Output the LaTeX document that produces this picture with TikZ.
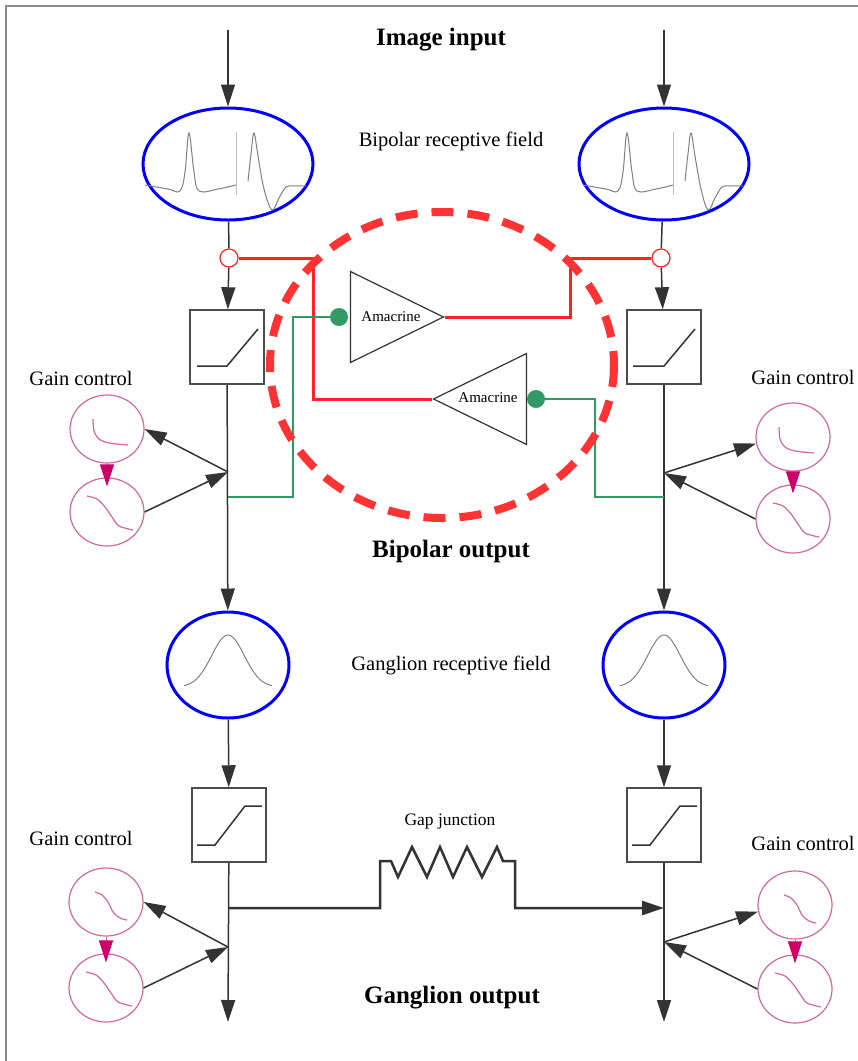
\documentclass[tikz,border=0pt]{standalone}
\usepackage{fontspec}
\setmainfont{Liberation Serif}
\usetikzlibrary{arrows.meta,shapes.geometric}

\definecolor{fieldblue}{RGB}{0,0,255}
\definecolor{gainpink}{RGB}{214,102,160}
\definecolor{gainmag}{RGB}{204,0,102}
\definecolor{amagreen}{RGB}{46,155,98}
\definecolor{dotgreen}{RGB}{51,153,102}
\definecolor{amared}{RGB}{255,34,34}
\definecolor{zonered}{RGB}{255,51,51}

\tikzset{
  wire/.style={line width=1.5pt, black!80},
  arr/.style={wire, -{Triangle[length=22pt,width=14pt]}},
  bipfield/.style={ellipse, draw=fieldblue, line width=3pt, minimum width=170pt, minimum height=112pt, inner sep=0pt},
  ganfield/.style={ellipse, draw=fieldblue, line width=3pt, minimum width=122pt, minimum height=106pt, inner sep=0pt},
  rectbox/.style={rectangle, draw=black!70, line width=1.5pt, minimum size=74pt, inner sep=0pt},
  synring/.style={circle, draw=amared, line width=1.2pt, minimum size=18pt, inner sep=0pt},
  syndot/.style={circle, fill=dotgreen, minimum size=18pt, inner sep=0pt},
  amabox/.style={isosceles triangle, isosceles triangle stretches, draw=black!80, line width=1.2pt, inner sep=0pt, minimum width=91pt, minimum height=93pt},
  gaincirc/.style={ellipse, draw=gainpink, line width=1.2pt, minimum width=74pt, minimum height=68pt, inner sep=0pt},
  gainarr/.style={gainpink, line width=1pt, -{Triangle[length=22pt,width=14pt,color=gainmag]}},
  redwire/.style={amared, line width=3pt},
  greenwire/.style={amagreen, line width=2.5pt},
  wave/.style={black!50, line width=1pt},
  gwave/.style={gainpink, line width=1.2pt},
  title/.style={font=\fontsize{25}{30}\selectfont\bfseries},
  lbl/.style={font=\fontsize{20.5}{24}\selectfont},
  smalllbl/.style={font=\fontsize{17.5}{21}\selectfont},
  amalbl/.style={font=\fontsize{15}{18}\selectfont}
}

\begin{document}
\begin{tikzpicture}[x=1pt,y=-1pt]
\useasboundingbox (0,0) rectangle (858,1061);
\draw[black!45, line width=1.5pt] (6,6) rectangle (880,1080);

\coordinate (inL) at (228,30);
\coordinate (inR) at (664,30);
\coordinate (jL1) at (228,472);
\coordinate (jR1) at (664,473);
\coordinate (gjL) at (228,497);
\coordinate (gjR) at (664,497);
\coordinate (gapA) at (228,908);
\coordinate (gapB) at (664,908);
\coordinate (jL2) at (228,947);
\coordinate (jR2) at (664,942);
\coordinate (outL) at (228,1022);
\coordinate (outR) at (664,1022);

% texts
\node[title] (tIn) at (441,40) {Image input};
\node[lbl] (tBip) at (451,141) {Bipolar receptive field};
\node[title] (tBipOut) at (451,551) {Bipolar output};
\node[lbl] (tGan) at (451,665) {Ganglion receptive field};
\node[smalllbl] (tGap) at (450,822) {Gap junction};
\node[title] (tGanOut) at (452,998) {Ganglion output};
\node[lbl] (tGainLa) at (81,378) {Gain control};
\node[lbl] (tGainRa) at (803,377) {Gain control};
\node[lbl] (tGainLb) at (81,838) {Gain control};
\node[lbl] (tGainRb) at (803,843) {Gain control};

% receptive fields
\node[bipfield] (bipL) at (228,164) {};
\node[bipfield] (bipR) at (664,164) {};
\node[ganfield] (ganL) at (228,665) {};
\node[ganfield] (ganR) at (664,665) {};
\begin{scope}[shift={(bipL.center)}]
  \draw[wave] plot[smooth, tension=0.6] coordinates {(-83,21) (-60,25) (-48,27) (-43,8) (-39,-31) (-34,8) (-29,27) (-10,25) (8,21)};
  \draw[black!25, line width=0.8pt] (8,-32) -- (8,31);
  \draw[wave] plot[smooth, tension=0.6] coordinates {(20,17) (23,-10) (26,-31) (30,-8) (36,25) (44,46) (51,34) (58,23) (66,22) (78,22)};
\end{scope}
\begin{scope}[shift={(bipR.center)}]
  \draw[wave] plot[smooth, tension=0.6] coordinates {(-81,21) (-58,25) (-46,27) (-41,8) (-37,-31) (-32,8) (-27,27) (-8,25) (9,21)};
  \draw[black!25, line width=0.8pt] (9,-32) -- (9,31);
  \draw[wave] plot[smooth, tension=0.6] coordinates {(21,17) (24,-10) (27,-31) (31,-8) (37,25) (44,46) (51,34) (58,23) (66,22) (79,22)};
\end{scope}
\draw[wave, shift={(ganL.center)}] plot[domain=-44:44, samples=60] (\x,{22-52*exp(-(\x/23)^2)});
\draw[wave, shift={(ganR.center)}] plot[domain=-44:44, samples=60] (\x,{22-52*exp(-(\x/23)^2)});

% rectifier boxes
\node[synring] (redL) at (229,258) {};
\node[synring] (redR) at (661,258) {};
\node[rectbox] (recL) at (227,347) {};
\node[rectbox] (recR) at (664,347) {};
\node[rectbox] (sigL) at (229,825) {};
\node[rectbox] (sigR) at (664,825) {};
\draw[wire, shift={(recL.center)}] (-30,19) -- (0,19) -- (31,-18);
\draw[wire, shift={(recR.center)}] (-31,19) -- (0,19) -- (31,-18);
\draw[wire, shift={(sigL.center)}] (-32,20) -- (-14,20) -- (16,-19) -- (33,-19);
\draw[wire, shift={(sigR.center)}] (-32,20) -- (-14,20) -- (16,-19) -- (33,-19);

% main columns
\draw[arr] (inL) -- (bipL);
\draw[arr] (inR) -- (bipR);
\draw[wire] (bipL) -- (redL);
\draw[wire] (bipR) -- (redR);
\draw[arr] (redL) -- (recL);
\draw[arr] (redR) -- (recR);
\draw[arr] (recL) -- (ganL);
\draw[arr] (recR) -- (ganR);
\draw[arr] (ganL) -- (sigL);
\draw[arr] (ganR) -- (sigR);
\draw[arr] (sigL) -- (outL);
\draw[arr] (sigR) -- (outR);

% amacrine loop
\node[amabox, shape border rotate=0, anchor=apex] (ama1) at (445,317) {};
\node[amabox, shape border rotate=180, anchor=apex] (ama2) at (432,399) {};
\node[amalbl] (tAma1) at (391,317) {Amacrine};
\node[amalbl] (tAma2) at (488,398) {Amacrine};
\node[syndot] (dotA) at (339,317) {};
\node[syndot] (dotB) at (536,399) {};
\draw[redwire] (redL) -- (313,258) -- (313,399) -- (ama2.apex);
\draw[redwire] (ama1.apex) -- (570,317) -- (570,258) -- (redR);
\draw[greenwire] (dotA) -- (293,317) -- (293,497) -- (gjL);
\draw[greenwire] (dotB) -- (595,399) -- (595,497) -- (gjR);
\draw[zonered, line width=8pt, dash pattern=on 22pt off 14pt] (442,365) ellipse [x radius=172, y radius=153];

% gain control
\node[gaincirc] (gLa) at (107,429) {};
\node[gaincirc] (gLb) at (107,512) {};
\node[gaincirc] (gRa) at (793,437) {};
\node[gaincirc] (gRb) at (793,519) {};
\node[gaincirc] (gLc) at (106,902) {};
\node[gaincirc] (gLd) at (106,988) {};
\node[gaincirc] (gRc) at (795,905) {};
\node[gaincirc] (gRd) at (795,989) {};
\draw[gwave, shift={(gLa.center)}] plot[smooth] coordinates {(-14,-10) (-13,2) (-8,10) (2,14) (21,16)};
\draw[gwave, shift={(gRa.center)}] plot[smooth] coordinates {(-14,-10) (-13,2) (-8,10) (2,14) (21,16)};
\draw[gwave, shift={(gLb.center)}] plot[smooth] coordinates {(-20,-16) (-10,-13) (-2,-5) (5,5) (12,14) (26,18)};
\draw[gwave, shift={(gRb.center)}] plot[smooth] coordinates {(-20,-16) (-10,-13) (-2,-5) (5,5) (12,14) (26,18)};
\draw[gwave, shift={(gLc.center)}] plot[smooth] coordinates {(-11,-10) (-4,-7) (2,0) (7,10) (14,16) (21,18)};
\draw[gwave, shift={(gRc.center)}] plot[smooth] coordinates {(-11,-10) (-4,-7) (2,0) (7,10) (14,16) (21,18)};
\draw[gwave, shift={(gLd.center)}] plot[smooth] coordinates {(-20,-16) (-10,-13) (-2,-5) (5,5) (12,14) (26,18)};
\draw[gwave, shift={(gRd.center)}] plot[smooth] coordinates {(-20,-16) (-10,-13) (-2,-5) (5,5) (12,14) (26,18)};
\draw[gainarr] (gLa.south) -- ([yshift=-9pt]gLb.north);
\draw[gainarr] (gRa.south) -- ([yshift=-9pt]gRb.north);
\draw[gainarr] (gLc.south) -- ([yshift=-9pt]gLd.north);
\draw[gainarr] (gRc.south) -- ([yshift=-9pt]gRd.north);
\draw[arr] (jL1) -- (gLa.east);
\draw[arr] (gLb.east) -- (jL1);
\draw[arr] (jR1) -- (gRa.190);
\draw[arr] (gRb.west) -- (jR1);
\draw[arr] (jL2) -- (gLc.east);
\draw[arr] (gLd.east) -- (jL2);
\draw[arr] (jR2) -- (gRc.190);
\draw[arr] (gRd.west) -- (jR2);

% gap junction
\draw[wire, line width=2.5pt, -{Triangle[length=22pt,width=14pt]}] (gapA) -- (380,908) -- (380,861) -- (391,861) -- (398,877) -- (412,847) -- (427,877) -- (440,847) -- (453,877) -- (467,847) -- (482,877) -- (497,847) -- (503,861) -- (515,861) -- (515,908) -- (gapB);
\end{tikzpicture}
\end{document}
